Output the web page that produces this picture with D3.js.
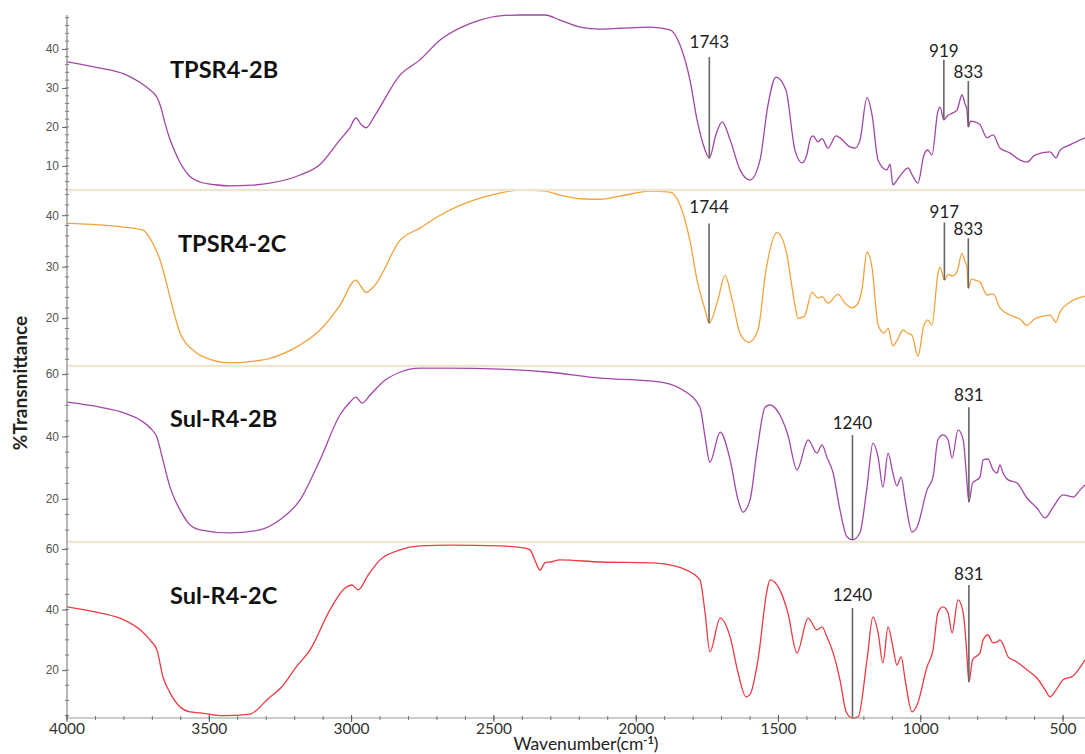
<!DOCTYPE html>
<html>
<head>
<meta charset="utf-8">
<script src="https://cdn.jsdelivr.net/npm/d3@7"></script>
<style>
  body { margin: 0; background: #fff; }
  svg { display: block; }
</style>
</head>
<body>
<svg id="chart" width="1085" height="754"></svg>
<script>
// FTIR spectra - four stacked panels

const xTicks = [4000, 3500, 3000, 2500, 2000, 1500, 1000, 500];
const sampleNames = ["TPSR4-2B", "TPSR4-2C", "Sul-R4-2B", "Sul-R4-2C"];

// y ranges of each panel (%T) and their labelled ticks
const yDomains = [[3.85, 48.7], [10.7, 44.9], [6.2, 62.6], [4.2, 62.3]];
const yTicks = [[10, 20, 30, 40], [20, 30, 40], [20, 40, 60], [20, 40, 60]];
const yMinorStep = [2, 2, 5, 5];

// [wavenumber, %T]
const tpsr2b = [[4000,36.7],[3884,35.1],[3800,33.6],[3743,31.4],[3710,29.6],[3684,27.6],[3670,25],[3655,20.8],[3638,16.8],[3620,13.5],[3603,10.9],[3585,8.8],[3568,7.3],[3533,5.9],[3480,5.2],[3427,4.9],[3350,5.1],[3287,5.6],[3181,7.7],[3111,10.4],[3041,16.7],[3006,19.8],[2985,22.3],[2965,20.5],[2949,19.8],[2918,23],[2830,33.3],[2760,37.2],[2689,42.3],[2619,45.4],[2549,47.4],[2479,48.5],[2408,48.7],[2320,48.7],[2268,47.4],[2197,45.6],[2127,45.1],[2057,45.3],[1951,45.6],[1881,44.9],[1846,41],[1811,32],[1786,21.8],[1758,14.1],[1743,12],[1720,18],[1698,21.3],[1670,16.7],[1635,9],[1600,6.4],[1565,11.5],[1537,25.6],[1509,32.8],[1474,29.5],[1442,14],[1417,10.8],[1400,13],[1389,16.7],[1379,17.7],[1361,16.2],[1347,17],[1326,14.6],[1298,17.7],[1284,17.2],[1249,14.9],[1231,14.6],[1214,16.5],[1189,27.5],[1171,23],[1150,11.5],[1119,9],[1108,10.5],[1098,5.2],[1084,6.3],[1062,8.5],[1045,9.5],[1031,7.8],[1010,5.6],[989,12.8],[975,14.1],[961,12.8],[940,24],[932,25.1],[919,21.8],[905,23],[890,23.5],[873,24.3],[855,28.2],[845,26],[838,24.5],[833,20],[825,21.5],[810,21.3],[792,20.6],[767,17.2],[746,18],[722,14.6],[686,13.3],[651,11.5],[627,11],[599,12.8],[546,13.6],[525,12.1],[511,14],[476,15.4],[423,17.2]];

const tpsr2c = [[4000,38.4],[3803,37.7],[3733,37.1],[3708,35.5],[3690,33.6],[3673,31.3],[3655,27.8],[3638,24.1],[3620,20.2],[3603,17.1],[3580,15],[3557,13.8],[3533,12.8],[3427,11.3],[3350,11.6],[3287,12.2],[3181,14.8],[3111,17.7],[3041,22.5],[2985,27.4],[2965,26],[2949,25],[2918,26.4],[2830,35.1],[2760,37.5],[2689,40],[2619,41.9],[2549,43.3],[2479,44.3],[2408,44.9],[2320,44.7],[2268,43.9],[2197,43.2],[2127,43.1],[2057,43.7],[1951,44.7],[1881,44.5],[1846,42],[1811,35],[1786,27.4],[1758,21.6],[1744,19],[1713,23.5],[1688,28.3],[1663,23.6],[1635,17],[1604,15.3],[1572,17.7],[1544,29.3],[1505,36.6],[1474,33.2],[1442,22.5],[1432,20],[1410,20.3],[1382,25],[1361,23.9],[1347,24.2],[1326,22.9],[1291,24.6],[1266,22.9],[1242,22],[1224,22.6],[1207,25.5],[1189,32.8],[1171,29.7],[1150,18.6],[1129,17.1],[1115,18],[1098,14.6],[1084,15.6],[1062,17.7],[1048,17.1],[1031,16.7],[1010,12.6],[989,18.6],[975,19.6],[961,18.6],[940,28.5],[932,29.9],[917,27.4],[904,28.5],[890,28.2],[873,29],[855,32.6],[845,31],[838,30],[833,25.8],[822,27.6],[810,27.4],[792,27],[767,24.5],[746,24.7],[722,22],[686,20.6],[651,19.8],[627,18.6],[599,19.9],[546,20.6],[525,19.2],[511,21.2],[476,23.1],[423,24.3]];

const sulr2b = [[4000,51],[3884,49.4],[3800,47.6],[3743,45.3],[3705,42.5],[3684,39.8],[3663,32.5],[3638,23.8],[3620,19.6],[3603,16.5],[3568,11.7],[3533,10.1],[3427,9.1],[3322,10.1],[3252,13.3],[3181,19.7],[3111,32.5],[3041,46.9],[3006,51],[2985,52.6],[2963,50.7],[2935,53.3],[2883,58],[2830,60.6],[2760,61.9],[2654,61.9],[2479,61.6],[2303,60.6],[2127,58.7],[1951,57.8],[1881,56.8],[1836,54.9],[1776,49.4],[1758,39.8],[1741,31.8],[1705,41.4],[1670,32.5],[1642,19.7],[1625,15.8],[1600,19.7],[1575,35.7],[1547,49.4],[1530,50.1],[1495,46.9],[1467,40.5],[1435,29.3],[1396,38.9],[1365,34.7],[1347,37.3],[1330,33.4],[1308,28.3],[1284,16.5],[1259,7.8],[1240,6.9],[1214,9.1],[1189,23.8],[1168,37.9],[1150,33.4],[1133,23.8],[1115,34.7],[1098,28.3],[1084,24.2],[1069,27],[1055,19.7],[1031,9.4],[1013,11],[978,22.9],[957,27],[940,38.9],[922,40.5],[904,38.9],[890,33.1],[869,42.1],[851,38.9],[840,28],[831,19],[818,25.1],[792,27],[781,32.5],[764,32.8],[746,29.3],[732,28.3],[722,30.9],[711,28.3],[693,26.1],[662,25.1],[627,20.3],[592,17.1],[563,13.9],[535,17.4],[500,21.3],[465,20.6],[440,22.9],[423,24.5]];

const sulr2c = [[4000,40.9],[3884,38.9],[3800,36.6],[3743,33.3],[3705,29.6],[3684,26.7],[3663,17.8],[3638,12.5],[3603,7.9],[3568,6.2],[3533,5.9],[3450,5],[3357,5.5],[3294,10.5],[3245,14.5],[3195,21],[3146,26.7],[3076,39.9],[3023,47.1],[2999,48.1],[2977,46.5],[2942,51.4],[2900,56.4],[2830,59.7],[2760,61],[2654,61.3],[2479,61],[2391,60.3],[2373,59.7],[2352,55.4],[2338,53],[2320,55.5],[2303,55.7],[2268,56.4],[2127,55.7],[1951,55.4],[1881,54.7],[1836,53.5],[1776,49.8],[1758,38.9],[1741,26],[1705,37.2],[1670,31],[1642,19.1],[1614,11.2],[1600,12],[1572,23.4],[1540,46.5],[1530,49.8],[1495,46.5],[1467,38.9],[1435,25.7],[1396,37.2],[1365,33.3],[1347,34.3],[1330,31],[1308,25.7],[1284,16.8],[1262,6.2],[1240,4.2],[1220,4.6],[1189,23.4],[1168,37.6],[1150,32.3],[1133,22.4],[1115,34.3],[1098,27.7],[1084,21.7],[1069,24.4],[1055,16.8],[1031,6.2],[1013,8.5],[978,21.1],[957,26.7],[940,38.9],[922,40.9],[904,38.9],[890,32.3],[869,43.2],[851,38.9],[840,28],[831,16.1],[818,23.4],[792,25.7],[781,30],[764,31.6],[746,29],[732,29.3],[722,30],[711,28.5],[693,24.4],[662,22.7],[627,20.1],[592,17.4],[563,13.5],[546,11.2],[528,13],[500,16.8],[465,18.1],[423,23.4]];

const spectra = [tpsr2b, tpsr2c, sulr2b, sulr2c];

// peak marks: wavenumber, label, top of the mark line (%T), label baseline (%T)
const peaks2b = [[1743, "1743", 37.9, 40.3], [919, "919", 37.2, 37.9], [833, "833", 31.8, 32.6]];
const peaks2c = [[1744, "1744", 38.4, 40.4], [917, "917", 38.6, 39.4], [833, "833", 35.5, 36.1]];
const peaksSul2b = [[1240, "1240", 40.5, 42.4], [831, "831", 49.4, 51.4]];
const peaksSul2c = [[1240, "1240", 40.5, 42.8], [831, "831", 48.1, 49.8]];
const peakSets = [peaks2b, peaks2c, peaksSul2b, peaksSul2c];

// ---- layout ----
const left = 67, right = 1085, axisY = 718;
const bands = [[15, 190], [190, 366], [366, 542], [542, 718]];
const colors = ["#a145a6", "#f3a23c", "#a347a8", "#ec3b42"];
const titlePos = [[170, 78], [178, 252], [170, 427], [170, 604]];
const font = "Lato, 'Open Sans', sans-serif";

const svg = d3.select("#chart");

const x = d3.scaleLinear().domain([4000, 423]).range([left, right]);

const defs = svg.append("defs");

spectra.forEach((data, i) => {
  const [top, bottom] = bands[i];
  const y = d3.scaleLinear().domain(yDomains[i]).range([bottom, top]);

  defs.append("clipPath").attr("id", "clip" + i)
    .append("rect").attr("x", left).attr("y", top - 1).attr("width", right - left).attr("height", bottom - top + 2);

  // y axis ticks
  const g = svg.append("g").attr("transform", `translate(${left},0)`);
  const minors = d3.range(Math.ceil(yDomains[i][0] / yMinorStep[i]) * yMinorStep[i], yDomains[i][1], yMinorStep[i]);
  g.selectAll(".minor").data(minors).enter().append("line")
    .attr("x1", -2).attr("x2", 2).attr("y1", d => y(d)).attr("y2", d => y(d))
    .attr("stroke", "#777").attr("stroke-width", 1);
  const axis = d3.axisLeft(y).tickValues(yTicks[i]).tickSize(5).tickPadding(3).tickFormat(d3.format("d"));
  g.append("g").call(axis).call(a => a.select(".domain").remove())
    .call(a => a.selectAll("line").attr("stroke", "#666"))
    .call(a => a.selectAll("text").attr("fill", "#555").style("font-family", "'Liberation Sans', Arial, sans-serif").style("font-size", "12px"));

  // spectrum
  const line = d3.line().x(d => x(d[0])).y(d => y(d[1])).curve(d3.curveMonotoneX);
  svg.append("path").datum(data)
    .attr("clip-path", `url(#clip${i})`)
    .attr("fill", "none").attr("stroke", colors[i]).attr("stroke-width", 1.3)
    .attr("d", line);

  // peak marks
  const valueAt = wn => {
    const idx = data.findIndex(d => d[0] <= wn);
    if (idx <= 0) return data[0][1];
    const a = data[idx - 1], b = data[idx];
    return a[1] + (b[1] - a[1]) * (a[0] - wn) / (a[0] - b[0]);
  };
  peakSets[i].forEach(p => {
    svg.append("line")
      .attr("x1", x(p[0])).attr("x2", x(p[0]))
      .attr("y1", y(p[2])).attr("y2", y(valueAt(p[0])))
      .attr("stroke", "#666").attr("stroke-width", 1.6);
    svg.append("text")
      .attr("x", x(p[0])).attr("y", y(p[3]))
      .attr("text-anchor", "middle")
      .style("font-family", font).style("font-size", "17px").attr("fill", "#222")
      .text(p[1]);
  });

  // sample name
  svg.append("text")
    .attr("x", titlePos[i][0]).attr("y", titlePos[i][1])
    .style("font-family", font).style("font-size", "23.5px").style("font-weight", "bold")
    .attr("fill", "#111")
    .text(sampleNames[i]);
});

// panel separators
svg.selectAll(".sep").data(bands.slice(1)).enter().append("line")
  .attr("x1", left).attr("x2", right)
  .attr("y1", d => d[0]).attr("y2", d => d[0])
  .attr("stroke", "#ebe7d2").attr("stroke-width", 2.5);

// y axis line
svg.append("line").attr("x1", left).attr("x2", left).attr("y1", 15).attr("y2", axisY)
  .attr("stroke", "#888").attr("stroke-width", 1.2);

// x axis
const gx = svg.append("g").attr("transform", `translate(0,${axisY})`);
gx.append("line").attr("x1", left).attr("x2", right).attr("y1", 0).attr("y2", 0)
  .attr("stroke", "#999").attr("stroke-width", 1.2);
gx.selectAll(".minor").data(d3.range(4000, 423, -100)).enter().append("line")
  .attr("x1", d => x(d)).attr("x2", d => x(d)).attr("y1", -2).attr("y2", 2)
  .attr("stroke", "#777");
gx.selectAll(".major").data(xTicks).enter().append("line")
  .attr("x1", d => x(d)).attr("x2", d => x(d)).attr("y1", -3).attr("y2", 4)
  .attr("stroke", "#555");
gx.selectAll(".lbl").data(xTicks).enter().append("text")
  .attr("x", d => x(d)).attr("y", 16)
  .attr("text-anchor", "middle")
  .style("font-family", font).style("font-size", "15.5px").attr("fill", "#333")
  .text(d => d);

// axis titles
const xt = svg.append("text").attr("x", 586).attr("y", 750).attr("text-anchor", "middle")
  .style("font-family", font).style("font-size", "17.5px").attr("fill", "#222")
  .text("Wavenumber(cm");
xt.append("tspan").attr("dy", -6).style("font-size", "11px").style("font-weight", "bold").text("-1");
xt.append("tspan").attr("dy", 6).text(")");

svg.append("text")
  .attr("transform", "translate(27,383) rotate(-90)")
  .attr("text-anchor", "middle")
  .style("font-family", font).style("font-size", "19px").style("font-weight", "bold")
  .attr("fill", "#222")
  .text("%Transmittance");
</script>
</body>
</html>
